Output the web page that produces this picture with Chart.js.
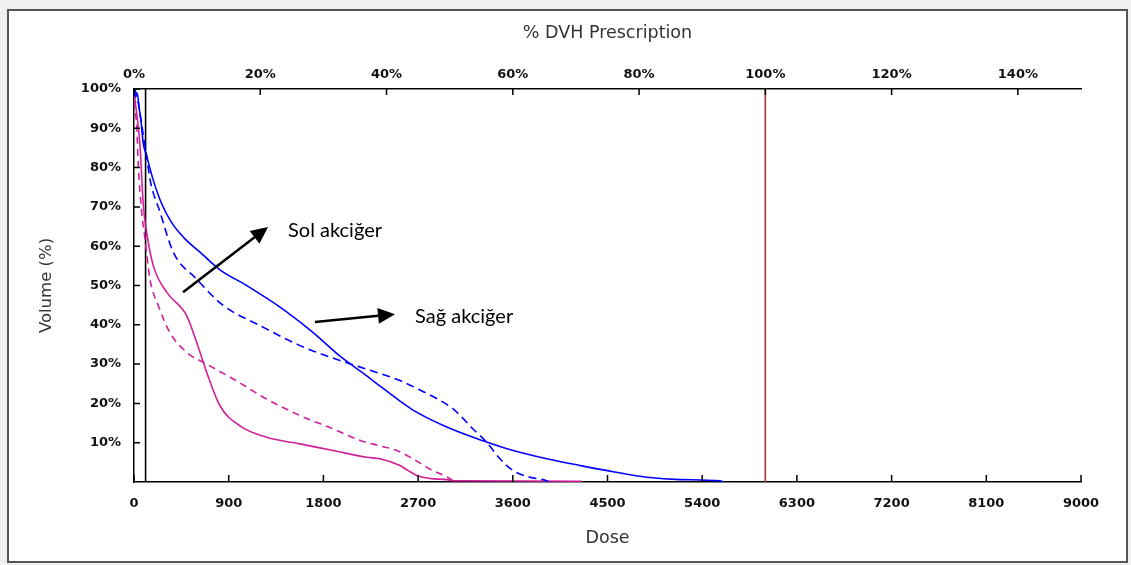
<!DOCTYPE html>
<html>
<head>
<meta charset="utf-8">
<script src="https://cdn.jsdelivr.net/npm/chart.js@4/dist/chart.umd.min.js"></script>
<style>
  html, body { margin: 0; padding: 0; background: #f0f0f0; }
  #frame { position: absolute; left: 7px; top: 9px; width: 1117px; height: 550px; border: 2px solid #555; background: #fff; }
  #dvh { position: absolute; left: 0; top: 0; }
</style>
</head>
<body>
<div id="frame"></div>
<canvas id="dvh" width="1131" height="565"></canvas>
<script>
// DVH curves, dose (cGy) vs volume (%)
const blueSolidDose = [0, 15, 30, 50, 70, 86, 120, 181, 260, 358, 480, 627, 817, 1071, 1388, 1703, 1958, 2212, 2338, 2528, 2652, 2972, 3317, 3603, 3922, 4239, 4555, 4873, 5189, 5570, 5600];
const blueSolidVol  = [100, 98, 99, 95, 91, 86.5, 83, 77, 71, 66, 62, 58.5, 54, 50, 44.5, 38, 32, 27, 24.4, 20.6, 18.3, 14, 10.5, 8, 5.9, 4.2, 2.6, 1.2, 0.6, 0.3, 0];

const blueDashDose = [0, 20, 50, 90, 120, 152, 247, 373, 596, 849, 1198, 1578, 1958, 2338, 2528, 2718, 3032, 3222, 3352, 3478, 3603, 3763, 3887, 3950];
const blueDashVol  = [100, 99, 95, 88, 83, 77, 68.7, 58.5, 51.6, 44.9, 39.8, 34.7, 30.9, 27.6, 25.8, 23.4, 18.6, 13.5, 10.1, 5.9, 2.9, 1.2, 0.6, 0];

const pinkSolidDose = [0, 15, 30, 57, 89, 120, 184, 311, 501, 596, 691, 817, 1007, 1261, 1578, 1894, 2212, 2338, 2528, 2600, 2703, 2813, 2972, 3046, 4248, 4250];
const pinkSolidVol  = [100, 96, 93, 85.6, 70.3, 63.6, 55, 48.3, 42.3, 35.5, 27.9, 19.4, 14.3, 11.4, 9.7, 8, 6.3, 5.9, 4.2, 3, 1.5, 0.9, 0.6, 0.3, 0.2, 0];

const pinkDashDose = [0, 10, 25, 41, 73, 105, 152, 231, 342, 501, 691, 944, 1261, 1578, 1894, 2155, 2338, 2498, 2652, 2813, 2978, 3050];
const pinkDashVol  = [100, 95, 91, 80.5, 68.7, 61.8, 51.6, 44.9, 38, 33, 30, 26.2, 21.1, 16.9, 13.5, 10.5, 9.2, 8, 5.9, 3.3, 1.2, 0];

const prescriptionDose = 6000;
const markerDose = 110;

const doseTicks = [0, 900, 1800, 2700, 3600, 4500, 5400, 6300, 7200, 8100, 9000];
const percentTicks = [0, 20, 40, 60, 80, 100, 120, 140];
const volumeTicks = [10, 20, 30, 40, 50, 60, 70, 80, 90, 100];

const labels = [
    { text: 'Sol akciğer', dose: 1464, vol: 63.9 },
    { text: 'Sağ akciğer', dose: 2671, vol: 42 }
];
const arrows = [
    { from: [466, 48.3], to: [1274, 64.9] },
    { from: [1720, 40.7], to: [2481, 42.7] }
];

const pts = (d, v) => d.map((x, i) => ({ x: x, y: v[i] }));

const blue = '#0000ff';
const pink = '#d0209a';
const tickFont = { family: "'DejaVu Sans', Verdana, sans-serif", size: 13, weight: 'bold' };
const titleFont = { family: "'DejaVu Sans', Verdana, sans-serif", size: 17.5 };

// ticks drawn inward like the original software
const inwardTicks = {
    id: 'inwardTicks',
    afterDraw(chart) {
        const { ctx, chartArea: a, scales } = chart;
        ctx.save();
        ctx.strokeStyle = '#000';
        ctx.lineWidth = 1.5;
        ctx.beginPath();
        volumeTicks.forEach(v => {
            const y = scales.y.getPixelForValue(v);
            ctx.moveTo(a.left, y); ctx.lineTo(a.left + 6, y);
        });
        doseTicks.forEach(v => {
            const x = scales.x.getPixelForValue(v);
            ctx.moveTo(x, a.bottom); ctx.lineTo(x, a.bottom - 7);
        });
        percentTicks.forEach(v => {
            const x = scales.xTop.getPixelForValue(v);
            ctx.moveTo(x, a.top); ctx.lineTo(x, a.top + 6);
        });
        ctx.stroke();
        ctx.restore();
    }
};

const notes = {
    id: 'notes',
    afterDraw(chart) {
        const { ctx, scales } = chart;
        ctx.save();
        ctx.fillStyle = '#000';
        ctx.strokeStyle = '#000';
        ctx.lineWidth = 2.5;
        arrows.forEach(a => {
            const x1 = scales.x.getPixelForValue(a.from[0]), y1 = scales.y.getPixelForValue(a.from[1]);
            const x2 = scales.x.getPixelForValue(a.to[0]), y2 = scales.y.getPixelForValue(a.to[1]);
            const ang = Math.atan2(y2 - y1, x2 - x1);
            const hl = 17, hw = 8;
            ctx.beginPath();
            ctx.moveTo(x1, y1);
            ctx.lineTo(x2 - hl * Math.cos(ang), y2 - hl * Math.sin(ang));
            ctx.stroke();
            ctx.beginPath();
            ctx.moveTo(x2, y2);
            ctx.lineTo(x2 - hl * Math.cos(ang) + hw * Math.sin(ang), y2 - hl * Math.sin(ang) - hw * Math.cos(ang));
            ctx.lineTo(x2 - hl * Math.cos(ang) - hw * Math.sin(ang), y2 - hl * Math.sin(ang) + hw * Math.cos(ang));
            ctx.closePath();
            ctx.fill();
        });
        ctx.font = "20px Lato, 'Open Sans', sans-serif";
        ctx.textBaseline = 'middle';
        labels.forEach(l => {
            ctx.fillText(l.text, scales.x.getPixelForValue(l.dose), scales.y.getPixelForValue(l.vol));
        });
        ctx.restore();
    }
};

const line = (data, color, dash, smooth) => ({
    data: data,
    borderColor: color,
    borderWidth: 1.6,
    borderDash: dash || [],
    pointRadius: 0,
    fill: false,
    tension: 0,
    cubicInterpolationMode: smooth ? 'monotone' : 'default'
});

new Chart(document.getElementById('dvh'), {
    type: 'line',
    data: {
        datasets: [
            line(pts(blueSolidDose, blueSolidVol), blue, null, true),
            line(pts(blueDashDose, blueDashVol), blue, [8, 5], true),
            line(pts(pinkSolidDose, pinkSolidVol), pink, null, true),
            line(pts(pinkDashDose, pinkDashVol), pink, [7, 5], true),
            line([{ x: prescriptionDose, y: 0 }, { x: prescriptionDose, y: 100 }], '#a83838'),
            line([{ x: markerDose, y: 0 }, { x: markerDose, y: 100 }], '#000')
        ]
    },
    options: {
        responsive: false,
        devicePixelRatio: 1,
        animation: false,
        events: [],
        layout: { padding: { left: 0, top: 0, right: 50, bottom: 0 } },
        plugins: { legend: { display: false }, tooltip: { enabled: false } },
        scales: {
            x: {
                type: 'linear', position: 'bottom', min: 0, max: 9000,
                afterBuildTicks: s => { s.ticks = doseTicks.map(v => ({ value: v })); },
                afterFit: s => { s.height = 83; },
                grid: { display: false, drawTicks: false },
                border: { display: true, color: '#000', width: 1.5 },
                ticks: { font: tickFont, color: '#111', padding: 14, maxRotation: 0, callback: v => String(v) },
                title: { display: true, text: 'Dose', font: titleFont, color: '#333', padding: { top: 0, bottom: 16.5 } }
            },
            xTop: {
                type: 'linear', position: 'top', min: 0, max: 150,
                afterBuildTicks: s => { s.ticks = percentTicks.map(v => ({ value: v })); },
                afterFit: s => { s.height = 89; },
                grid: { display: false, drawTicks: false },
                border: { display: true, color: '#000', width: 1.5 },
                ticks: { font: tickFont, color: '#111', padding: 7, maxRotation: 0, callback: v => v + '%' },
                title: { display: true, text: '% DVH Prescription', font: titleFont, color: '#333', padding: { top: 22.5, bottom: 0 } }
            },
            y: {
                type: 'linear', position: 'left', min: 0, max: 100,
                afterBuildTicks: s => { s.ticks = volumeTicks.map(v => ({ value: v })); },
                afterFit: s => { s.width = 134; },
                grid: { display: false, drawTicks: false },
                border: { display: true, color: '#000', width: 1.5 },
                ticks: { font: tickFont, color: '#111', padding: 13, callback: v => v + '%' },
                title: { display: true, text: 'Volume (%)', font: { family: "'DejaVu Sans', Verdana, sans-serif", size: 16.5 }, color: '#333', padding: { top: 37, bottom: 0 } }
            }
        }
    },
    plugins: [inwardTicks, notes]
});
</script>
</body>
</html>
